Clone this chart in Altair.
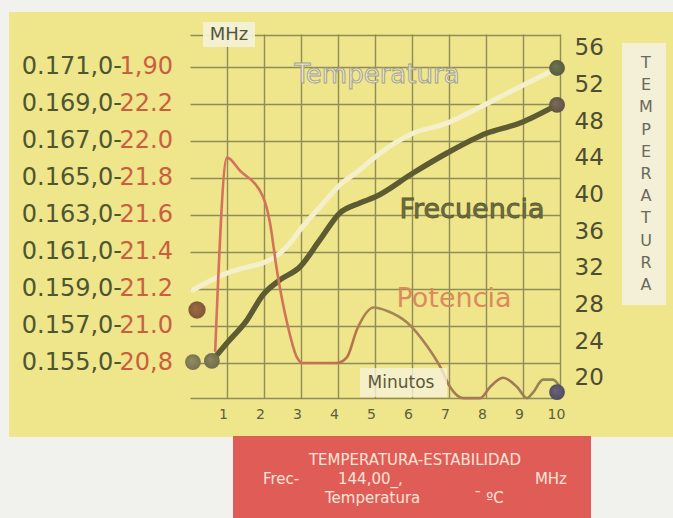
import altair as alt
import pandas as pd

FONT = "DejaVu Sans"

# ---------------- data ----------------
x_ticks = [1, 2, 3, 4, 5, 6, 7, 8, 9, 10]

freq_ticks = [0.171, 0.169, 0.167, 0.165, 0.163, 0.161, 0.159, 0.157, 0.155]
freq_tick_text = ["0.171,0-", "0.169,0-", "0.167,0-", "0.165,0-", "0.163,0-",
                  "0.161,0-", "0.159,0-", "0.157,0-", "0.155,0-"]
pot_tick_text = ["1,90", "22.2", "22.0", "21.8", "21.6", "21.4", "21.2", "21.0", "20,8"]
temp_ticks = [56, 52, 48, 44, 40, 36, 32, 28, 24, 20]

freq_minutes = [0.59, 1.0, 1.54, 1.97, 2.43, 2.97, 3.51, 4.05, 4.59, 5.0, 6.03, 6.95, 8.03, 8.92, 9.92]
freq_values = [0.15511, 0.15608, 0.15732, 0.15868, 0.15949, 0.16019, 0.16165, 0.16311,
               0.16365, 0.16397, 0.16527, 0.16635, 0.16743, 0.16797, 0.16895]

temp_minutes = [0.08, 1.0, 1.54, 1.97, 2.43, 2.70, 2.97, 3.51, 4.05, 4.59, 5.14, 6.03, 6.95,
                7.84, 8.73, 9.65, 9.92]
temp_values = [29.6, 31.45, 32.1, 32.55, 33.6, 34.7, 36.15, 38.65, 41.05, 42.7, 44.55, 46.7,
               47.8, 49.55, 51.4, 53.25, 53.8]

pot_minutes = [0.68, 1.0, 1.35, 1.97, 2.16, 2.35, 2.62, 2.89, 3.05, 3.97, 4.24, 4.51, 4.97,
               5.35, 5.86, 6.41, 6.76, 7.03, 7.38, 7.84, 8.11, 8.46, 8.84, 9.11, 9.27, 9.54,
               9.81, 10.0]
pot_values = [20.86, 21.91, 21.84, 21.70, 21.56, 21.30, 21.02, 20.83, 20.80, 20.80, 20.83,
              20.98, 21.10, 21.08, 21.02, 20.89, 20.78, 20.67, 20.61, 20.61, 20.67, 20.72,
              20.67, 20.61, 20.64, 20.71, 20.71, 20.67]

freq_dot_minutes = [0.59, 9.92]
freq_dot_values = [0.15511, 0.16895]
temp_dot_minutes = [0.19, 9.92]
temp_dot_values = [27.42, 53.82]
pot_dot_minutes = [0.08, 9.92]
pot_dot_values = [20.805, 20.643]

# ---------------- styling ----------------
BG_YELLOW = "#efe58b"
PALE = "#f1f1ee"
GRID = "#8f8c5a"
GREEN_TXT = "#4d5630"
RED_TXT = "#c8603f"

FREQ_DOMAIN = [0.153108, 0.172784]
TEMP_DOMAIN = [17.818, 57.527]
POT_DOMAIN = [20.6108, 22.5784]

x_enc = alt.X(
    "m:Q",
    scale=alt.Scale(domain=[0, 10], nice=False, zero=False),
    axis=alt.Axis(values=x_ticks, grid=True, ticks=False, domain=True, title=None,
                  labelFontSize=14, labelColor="#5e5e40", labelFont=FONT, labelPadding=9,
                  labelOffset=-4,
                  gridColor=GRID, gridWidth=1.4, domainColor=GRID, domainWidth=1.6,
                  labelFlush=False),
)


def fscale():
    return alt.Scale(domain=FREQ_DOMAIN, nice=False, zero=False)


def tscale():
    return alt.Scale(domain=TEMP_DOMAIN, nice=False, zero=False)


def pscale():
    return alt.Scale(domain=POT_DOMAIN, nice=False, zero=False)


one = pd.DataFrame({"k": [0]})


def box(x, x2, y, y2, color, opacity=1.0):
    return alt.Chart(one).mark_rect(color=color, opacity=opacity).encode(
        x=alt.value(x), x2=alt.value(x2), y=alt.value(y), y2=alt.value(y2))


def label(text, x, y, size, color, align="center", baseline="middle", **kw):
    return alt.Chart(one).mark_text(align=align, baseline=baseline, fontSize=size,
                                    font=FONT, color=color, **kw).encode(
        x=alt.value(x), y=alt.value(y), text=alt.value(text))


layers = []
# page areas outside the yellow sheet
layers.append(box(-190, 483, -34, -22, PALE))
layers.append(box(-190, 483, 403, 484, PALE))
layers.append(box(-190, -181, -22, 403, PALE))
# pale vertical title box
layers.append(box(432, 476, 9, 271, "#f3f1df", 0.9))

# temperature line (right axis)
temp_df = pd.DataFrame({"m": temp_minutes, "t": temp_values})
layers.append(alt.Chart(temp_df).mark_line(
    color="#f5efcb", strokeWidth=5, interpolate="monotone", strokeCap="round").encode(
    x=x_enc,
    y=alt.Y("t:Q", scale=tscale(),
            axis=alt.Axis(orient="right", values=temp_ticks, grid=False, ticks=False,
                          domain=False, title=None, labelFontSize=23, labelFont=FONT,
                          labelColor="#4d4d33", labelPadding=14)),
))

# frequency line (carries the grid)
freq_df = pd.DataFrame({"m": freq_minutes, "f": freq_values})
layers.append(alt.Chart(freq_df).mark_line(
    color="#5c5b32", strokeWidth=5.5, interpolate="monotone", strokeCap="round").encode(
    x=x_enc,
    y=alt.Y("f:Q", scale=fscale(),
            axis=alt.Axis(orient="left", values=freq_ticks + [0.17275], grid=True,
                          labels=False, ticks=False, domain=False, title=None,
                          gridColor=GRID, gridWidth=1.4)),
))

# power line
pot_df = pd.DataFrame({"m": pot_minutes, "p": pot_values})
pot_grad = alt.LinearGradient(
    gradient="linear", x1=0, y1=0, x2=1, y2=0,
    stops=[alt.GradientStop(color="#d8705c", offset=0.0),
           alt.GradientStop(color="#cf7558", offset=0.2),
           alt.GradientStop(color="#bb6e4c", offset=0.38),
           alt.GradientStop(color="#a08c55", offset=0.48),
           alt.GradientStop(color="#aa7b55", offset=0.65),
           alt.GradientStop(color="#a57655", offset=0.8),
           alt.GradientStop(color="#8d8a55", offset=1.0)])
layers.append(alt.Chart(pot_df).mark_line(
    stroke=pot_grad, strokeWidth=2.6, interpolate="monotone").encode(
    x=x_enc, y=alt.Y("p:Q", scale=pscale(), axis=None)))

# MHz and Minutos tags
layers.append(box(13, 65, -12, 13, "#f3f0d6", 0.95))
layers.append(label("MHz", 39, 1, 18, "#55553e"))
layers.append(box(170, 257, 334, 363, "#f6f2d8", 0.8))
layers.append(label("Minutos", 211, 349, 17, "#5a5a38"))

# in-chart series names
layers.append(label("Temperatura", 187, 41, 26, "#f0ecc8", stroke="#a3a290", strokeWidth=1))
layers.append(label("Frecuencia", 282, 176, 27, "#6e6d40", stroke="#5a5a32", strokeWidth=0.8))
layers.append(label("Potencia", 264, 265, 27, "#db8a5c"))

# vertical TEMPERATURA title
layers.append(alt.Chart(one).mark_text(
    align="center", baseline="alphabetic", fontSize=16, font=FONT, color="#6a6a5a",
    lineHeight=22.2).encode(
    x=alt.value(456), y=alt.value(34),
    text=alt.value(list("TEMPERATURA"))))

# left double-coloured labels
tick_df = pd.DataFrame({"f": freq_ticks, "g": freq_tick_text, "r": pot_tick_text})
layers.append(alt.Chart(tick_df).mark_text(
    align="right", baseline="middle", fontSize=24, font=FONT, color=GREEN_TXT).encode(
    x=alt.value(-68), y=alt.Y("f:Q", scale=fscale(), axis=None), text="g:N"))
layers.append(alt.Chart(tick_df).mark_text(
    align="right", baseline="middle", fontSize=24, font=FONT, color=RED_TXT).encode(
    x=alt.value(-17), y=alt.Y("f:Q", scale=fscale(), axis=None), text="r:N"))


# marker balls
def ball(df, field, scale, color, light, size=250):
    grad = alt.RadialGradient(
        gradient="radial", x1=0.4, y1=0.4, r1=0.05, x2=0.5, y2=0.5, r2=0.55,
        stops=[alt.GradientStop(color=light, offset=0.0),
               alt.GradientStop(color=color, offset=1.0)])
    return alt.Chart(df).mark_point(shape="circle", filled=True, fill=grad, size=size,
                                    strokeWidth=0, opacity=1).encode(
        x=x_enc, y=alt.Y(field, scale=scale, axis=None))


fd = pd.DataFrame({"m": freq_dot_minutes, "f": freq_dot_values})
td = pd.DataFrame({"m": temp_dot_minutes, "t": temp_dot_values})
pdd = pd.DataFrame({"m": pot_dot_minutes, "p": pot_dot_values})
layers.append(ball(pdd.iloc[[0]], "p:Q", pscale(), "#77704c", "#8f8a64"))
layers.append(ball(pdd.iloc[[1]], "p:Q", pscale(), "#4f4a5e", "#6a6078"))
layers.append(ball(fd.iloc[[0]], "f:Q", fscale(), "#6f6a48", "#88835e"))
layers.append(ball(fd.iloc[[1]], "f:Q", fscale(), "#5f5040", "#7a6a58"))
layers.append(ball(td.iloc[[0]], "t:Q", tscale(), "#7e5434", "#9a6a48", size=300))
layers.append(ball(td.iloc[[1]], "t:Q", tscale(), "#565a3c", "#6e7250"))

# bottom red caption box
layers.append(box(43, 401, 402, 484, "#e05d57"))
CAP = "#fbe4d8"
layers.append(label("TEMPERATURA-ESTABILIDAD", 225, 426, 15, CAP))
layers.append(label("Frec-", 73, 445, 15, CAP, align="left"))
layers.append(label("144,00_,", 148, 445, 15, CAP, align="left"))
layers.append(label("MHz", 377, 445, 15, CAP, align="right"))
layers.append(label("Temperatura", 135, 464, 15, CAP, align="left"))
layers.append(label("¯ ºC", 284, 464, 15, CAP, align="left"))

chart = alt.layer(*layers).resolve_scale(y="independent").properties(
    width=370, height=364,
    padding={"left": 190, "top": 34, "right": 113, "bottom": 120},
    autosize=alt.AutoSizeParams(type="none"),
    background=BG_YELLOW,
).configure_view(stroke=None)

chart.save("out.html", embed_options={"renderer": "svg", "actions": False})
